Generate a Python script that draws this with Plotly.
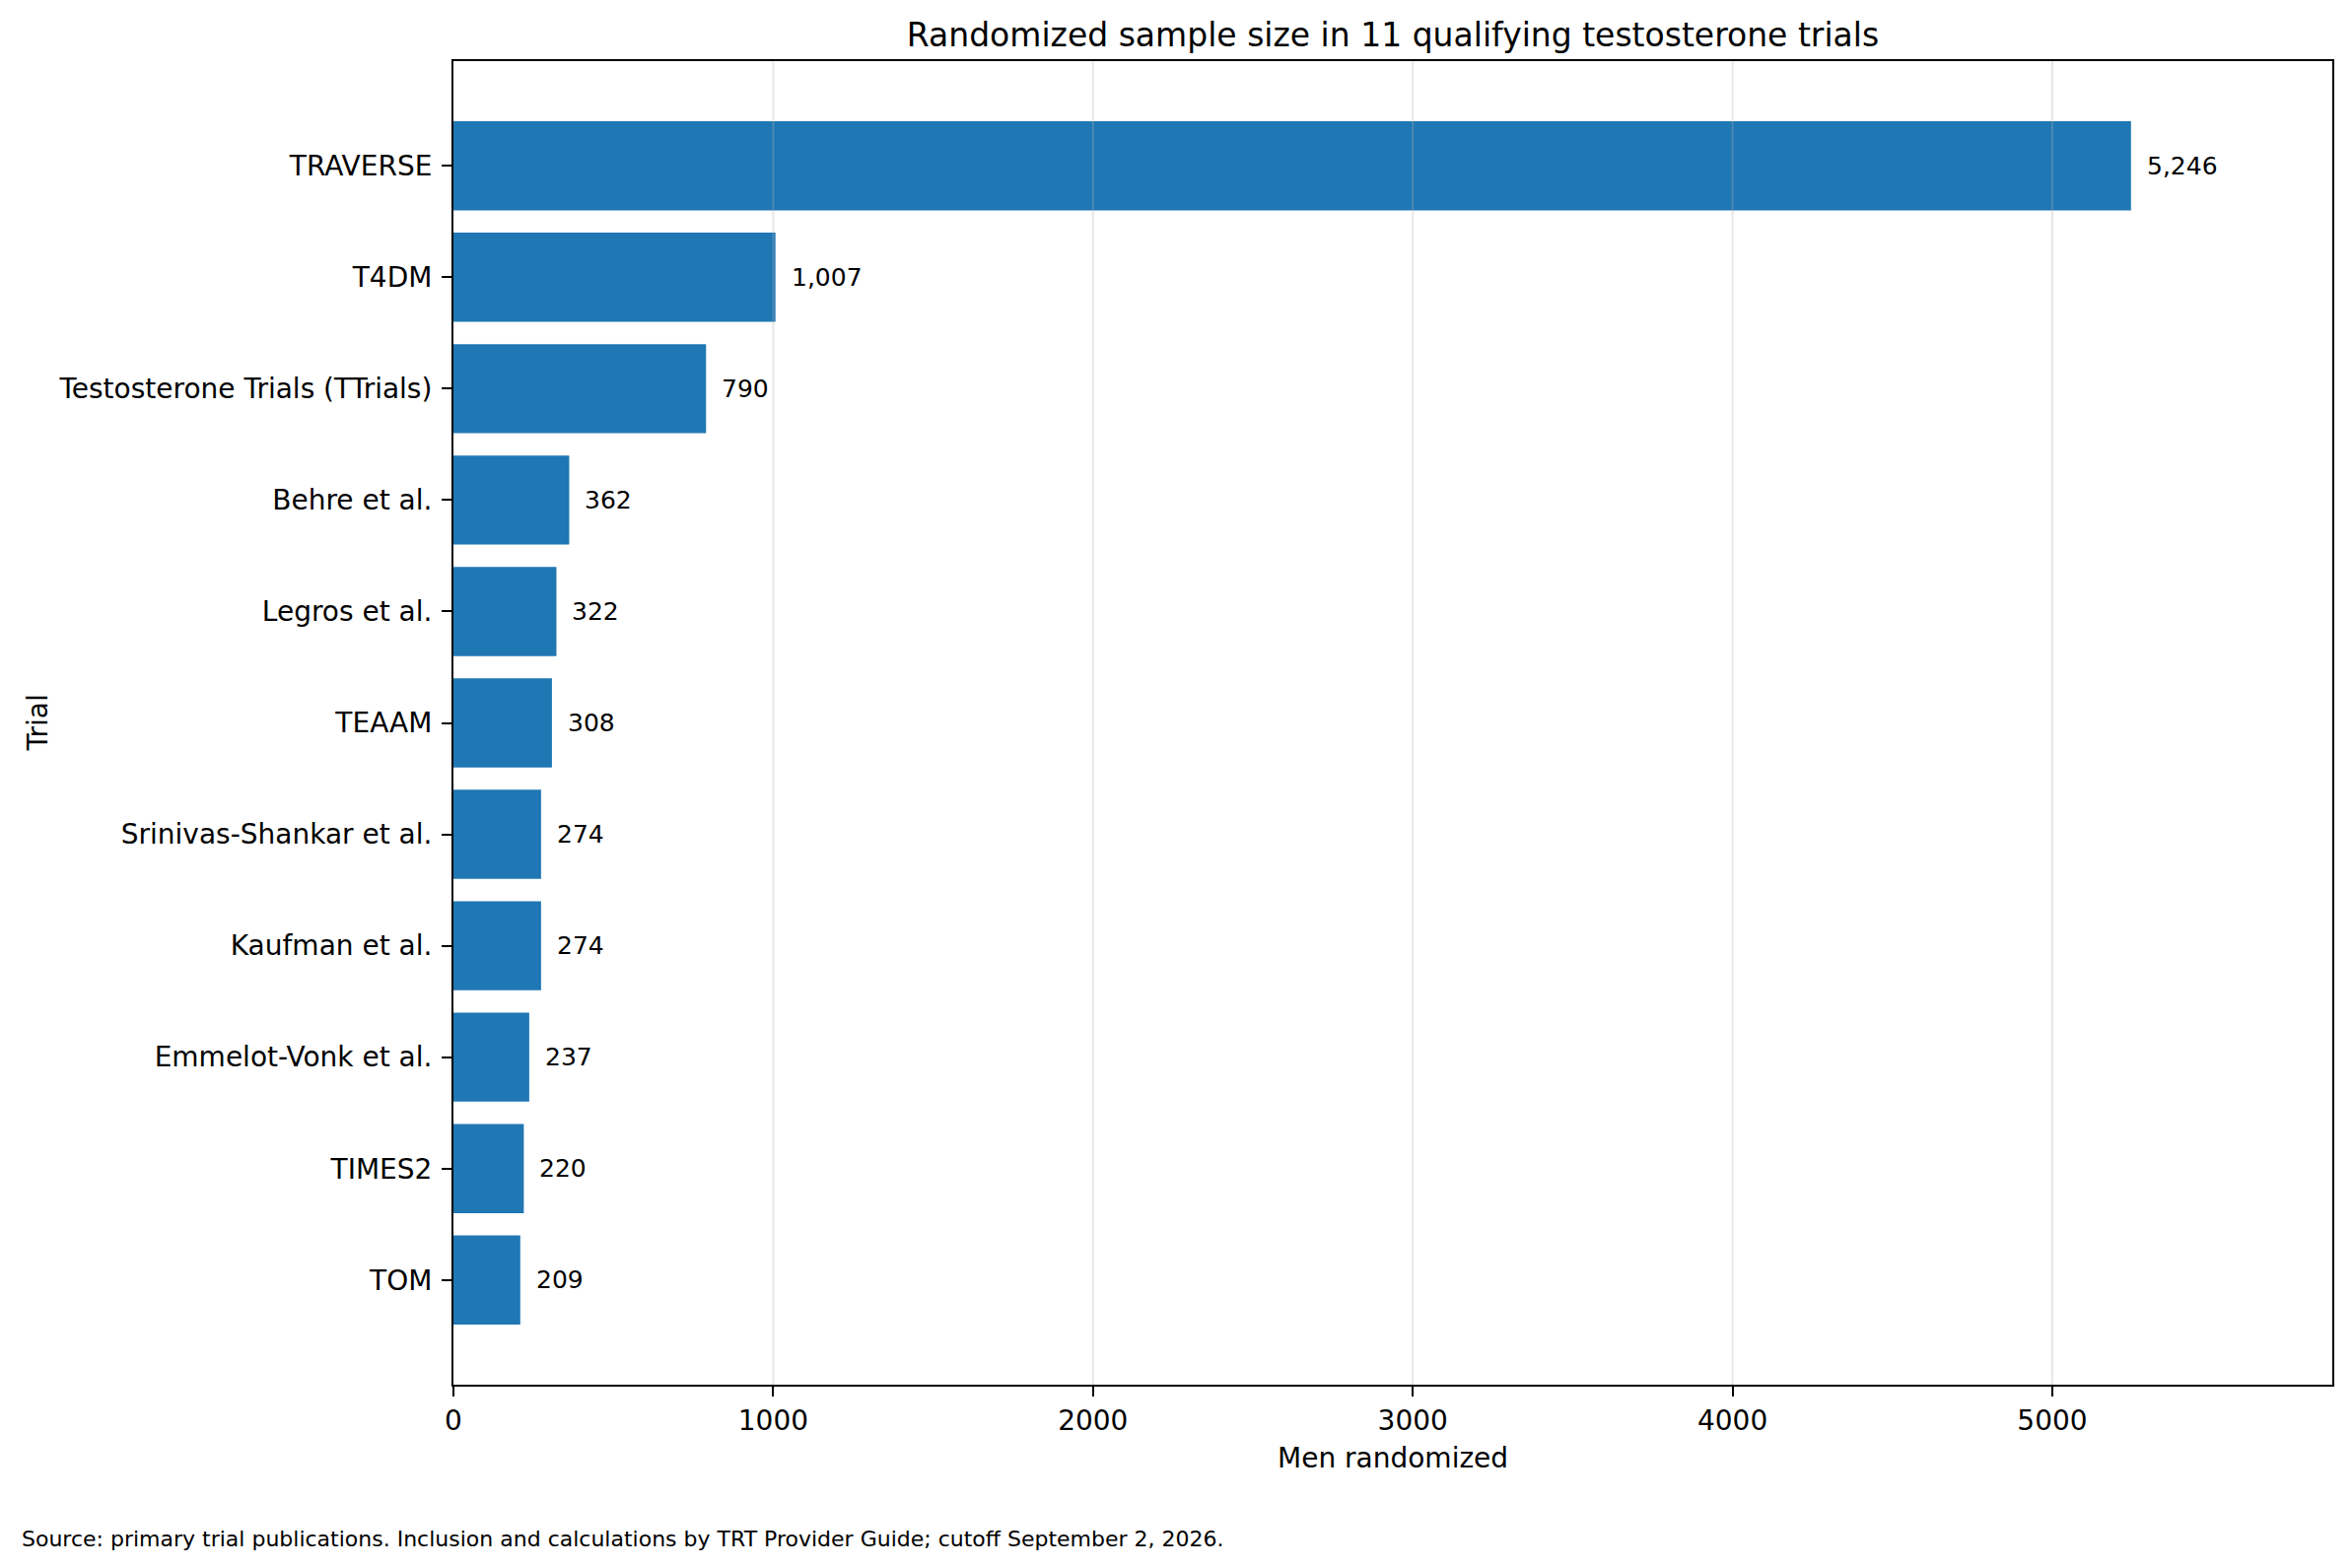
import plotly.graph_objects as go

# datos
trials = [
    "TRAVERSE",
    "T4DM",
    "Testosterone Trials (TTrials)",
    "Behre et al.",
    "Legros et al.",
    "TEAAM",
    "Srinivas-Shankar et al.",
    "Kaufman et al.",
    "Emmelot-Vonk et al.",
    "TIMES2",
    "TOM",
]
men_randomized = [5246, 1007, 790, 362, 322, 308, 274, 274, 237, 220, 209]
x_ticks = [0, 1000, 2000, 3000, 4000, 5000]

FONT = "DejaVu Sans"
BAR_COLOR = "#1f77b4"

# la pagina tiene 8px de margen en body
W, H = 2378, 1583

fig = go.Figure()
fig.add_trace(go.Bar(
    x=men_randomized,
    y=trials,
    orientation="h",
    width=0.8,
    marker=dict(color=BAR_COLOR, line=dict(width=0)),
    hoverinfo="skip",
))

# etiquetas de valor al final de cada barra
for name, v in zip(trials, men_randomized):
    fig.add_annotation(
        x=v, y=name, xref="x", yref="y",
        text=f"{v:,}", showarrow=False,
        xanchor="left", yanchor="middle", xshift=14,
        font=dict(family=FONT, size=25, color="black"),
    )

# rejilla vertical encima de las barras (como en matplotlib con alpha)
for t in x_ticks[1:]:
    fig.add_shape(
        type="line", xref="x", yref="paper",
        x0=t, x1=t, y0=0, y1=1,
        line=dict(color="rgba(176,176,176,0.3)", width=2),
        layer="above",
    )

n = len(trials)
fig.update_layout(
    width=W,
    height=H,
    margin=dict(l=452, r=20, t=54, b=186),
    plot_bgcolor="white",
    paper_bgcolor="white",
    showlegend=False,
    font=dict(family=FONT, size=28, color="black"),
    title=dict(
        text="Randomized sample size in 11 qualifying testosterone trials",
        x=0.5, xref="paper", xanchor="center",
        y=1 - 27 / H, yref="container", yanchor="middle",
        font=dict(family=FONT, size=33, color="black"),
    ),
    xaxis=dict(
        range=[0, max(men_randomized) * 1.12],
        tickvals=x_ticks,
        ticktext=[str(t) for t in x_ticks],
        showgrid=False,
        zeroline=False,
        showline=True, mirror=True, linecolor="black", linewidth=2,
        ticks="outside", ticklen=10, tickwidth=2, tickcolor="black",
        tickfont=dict(family=FONT, size=28, color="black"),
    ),
    yaxis=dict(
        type="category",
        categoryorder="array",
        categoryarray=trials,
        range=[n - 1 + 0.94, -0.94],
        showgrid=False,
        zeroline=False,
        showline=True, mirror=True, linecolor="black", linewidth=2,
        ticks="outside", ticklen=10, tickwidth=2, tickcolor="black",
        ticklabelstandoff=4,
        tickfont=dict(family=FONT, size=28, color="black"),
    ),
)

# titulos de ejes y nota
fig.add_annotation(
    text="Men randomized", xref="paper", yref="paper", x=0.5, y=0,
    yshift=-74, xanchor="center", yanchor="middle", showarrow=False,
    font=dict(family=FONT, size=28, color="black"),
)
fig.add_annotation(
    text="Trial", xref="paper", yref="paper", x=0, y=0.5,
    xshift=-422, xanchor="center", yanchor="middle", showarrow=False,
    textangle=-90,
    font=dict(family=FONT, size=28, color="black"),
)
fig.add_annotation(
    text="Source: primary trial publications. Inclusion and calculations by TRT Provider Guide; cutoff September 2, 2026.",
    xref="paper", yref="paper", x=0, y=0,
    xshift=-440, yshift=-156, xanchor="left", yanchor="middle", showarrow=False,
    font=dict(family=FONT, size=22, color="black"),
)

fig.write_html("out.html")
